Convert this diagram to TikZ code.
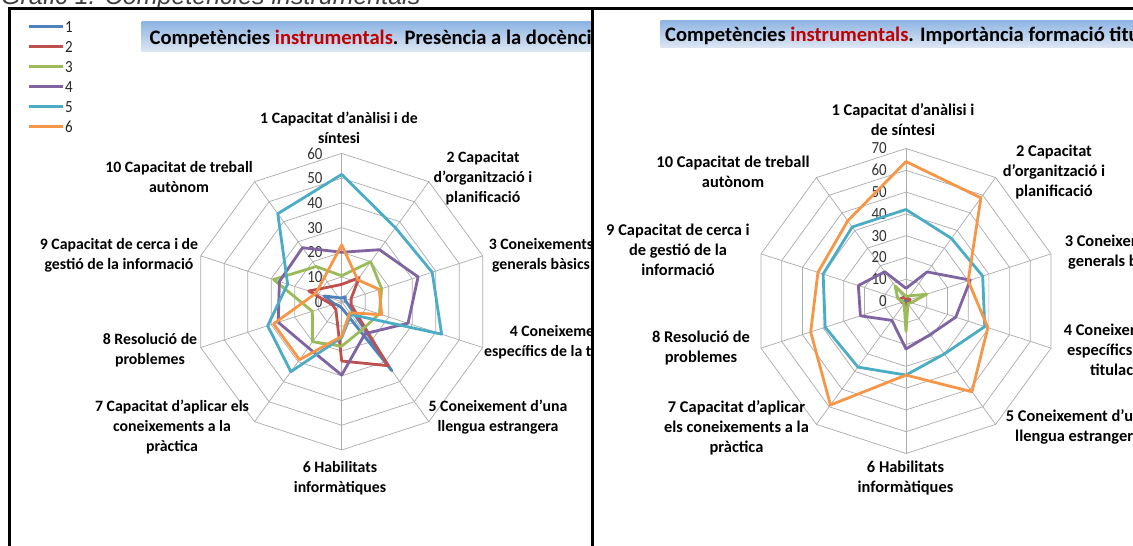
\documentclass[tikz,border=0pt]{standalone}
\usepackage{fontspec}
\setmainfont{Liberation Sans}
\newfontfamily\carl{Carlito}
\newfontfamily\carln[FakeStretch=0.88]{Carlito}
\definecolor{serA}{HTML}{4F81BD}
\definecolor{serB}{HTML}{C0504D}
\definecolor{serC}{HTML}{9BBB59}
\definecolor{serD}{HTML}{8064A2}
\definecolor{serE}{HTML}{4BACC6}
\definecolor{serF}{HTML}{F79646}
\definecolor{tred}{HTML}{C00000}
\definecolor{tbtop}{RGB}{141,180,226}
\definecolor{tbbot}{RGB}{222,231,243}
\newcommand\rline[4]{\draw[ser,#1] (90:#3*#2) \foreach \v [count=\k from 2] in {#4} { -- ({90-36*(\k-1)}:\v*#2) } -- cycle;}
\newcommand\rgrid[3]{%
  \foreach \r in {1,...,#2} {\draw[grid] (90:\r*10*#1) \foreach \k in {1,...,9} { -- ({90-36*\k}:\r*10*#1) } -- cycle;}
  \foreach \k in {0,...,9} {\draw[grid] (0,0) -- ({90-36*\k}:#2*10*#1);}
  \foreach \r in {0,...,#2} {\pgfmathtruncatemacro\lv{\r*10}\node[vlab] (#3\r) at (-19,\r*10*#1) {\lv};}
}
\begin{document}
\begin{tikzpicture}[x=1pt,y=-1pt,
  grid/.style={draw=black!33,line width=0.7pt},
  ser/.style={line width=2.8pt,line join=round},
  vlab/.style={anchor=east,inner sep=0,font=\carln\fontsize{17}{18}\selectfont,text=black!80},
  lab/.style={align=center,inner sep=0,font=\carl\bfseries\fontsize{15.8}{20}\selectfont},
  labr/.style={align=center,inner sep=0,font=\carl\bfseries\fontsize{16.4}{20}\selectfont},
  leglab/.style={anchor=west,inner sep=0,font=\carln\fontsize{17}{18}\selectfont,text=black!85},
  ttl/.style={anchor=base west,inner sep=0,font=\carl\bfseries\fontsize{20.6}{22}\selectfont},
  frame/.style={line width=2.6pt,draw=black}]
\useasboundingbox (0,0) rectangle (1133,546);
\fill[white] (0,0) rectangle (1133,546);
% caption (cut at the top)
\begin{scope}
\clip (0,0) rectangle (1133,8);
\node[anchor=base west,inner sep=0,font=\itshape\fontsize{25}{30}\selectfont,text=black!75] (cap) at (1,5) {Gràfic 1. Competències instrumentals};
\end{scope}
% ---------------- left panel ----------------
\begin{scope}
\clip (9,0) rectangle (591.5,546);
\shade[top color=tbtop,bottom color=tbbot] (141.6,21.7) rectangle (592,51.7);
\node[ttl] (tl) at (149.5,44) {Competències \textcolor{tred}{instrumentals}. Presència a la docència};
\begin{scope}[shift={(341.7,301.7)},x=1pt,y=1pt]
\rgrid{2.4717}{6}{lv}
\rline{serA}{2.4717}{1.5}{2.5,1.5,2.5,34.5,2.5,2,3,7.5,2}
\rline{serB}{2.4717}{7}{12,4,4,32,24,4,4,14,7.5}
\rline{serC}{2.4717}{10.5}{20,17,16,14,18,20,12.5,29,17.6}
\rline{serD}{2.4717}{20}{26,32.5,28.2,16,29.7,23,27,26.5,27}
\rline{serE}{2.4717}{51.5}{37,38.5,42.5,6.4,14.5,35,31.5,23,44}
\rline{serF}{2.4717}{23}{11,16,17,5.5,14,29,29,11,12}
\end{scope}
\node[lab] (l1) at (339,127.8) {1 Capacitat d’anàlisi i de\\síntesi};
\node[lab] (l2) at (483,178) {2 Capacitat\\d’organització i\\planificació};
\node[lab] (l3) at (541,255) {3 Coneixements\\generals bàsics};
\node[lab] (l4) at (562,342) {4 Coneixements\\específics de la titulació};
\node[lab] (l5) at (498,417) {5 Coneixement d’una\\llengua estrangera};
\node[lab] (l6) at (340,478) {6 Habilitats\\informàtiques};
\node[lab] (l7) at (172,426.5) {7 Capacitat d’aplicar els\\coneixements a la\\pràctica};
\node[lab] (l8) at (150,350) {8 Resolució de\\problemes};
\node[lab] (l9) at (119,255) {9 Capacitat de cerca i de\\gestió de la informació};
\node[lab] (l10) at (179,177) {10 Capacitat de treball\\autònom};
\end{scope}
% legend
\foreach \c/\n [count=\i from 0] in {serA/1,serB/2,serC/3,serD/4,serE/5,serF/6}{
  \draw[ser,\c] (28.7,26.7+20*\i) -- (63,26.7+20*\i);
  \node[leglab] (lg\n) at (65,26.7+20*\i) {\n};
}
% ---------------- right panel ----------------
\begin{scope}
\clip (593,0) rectangle (1133,546);
\shade[top color=tbtop,bottom color=tbbot] (660.5,20) rectangle (1133,47.7);
\node[ttl] (tr) at (665,41) {Competències \textcolor{tred}{instrumentals}. Importància formació titulació};
\begin{scope}[shift={(906,301)},x=1pt,y=1pt]
\rgrid{2.1786}{7}{rv}
\rline{serA}{2.1786}{0.6}{0.6,0.6,0.6,0.6,0.6,0.6,0.6,0.6,0.6}
\rline{serB}{2.1786}{1}{1.5,2,1.5,1,2,1.5,2,3,2}
\rline{serC}{2.1786}{2}{3,10,2.5,1.5,14,1.5,1.5,4,8.5}
\rline{serD}{2.1786}{5.8}{16.5,31,24,19,22,11,22,23,16.6}
\rline{serE}{2.1786}{42}{35.5,37,38,30,34,37.5,39,40,42}
\rline{serF}{2.1786}{64}{58.5,30,39.5,51.5,34,59,46,42.5,45.5}
\end{scope}
\node[labr] (r1) at (903,120) {1 Capacitat d’anàlisi i\\de síntesi};
\node[labr] (r2) at (1054,171.7) {2 Capacitat\\d’organització i\\planificació};
\node[labr] (r3) at (1119,251.7) {3 Coneixements\\generals bàsics};
\node[labr] (r4) at (1118,350) {4 Coneixements\\específics de la\\titulació};
\node[labr] (r5) at (1078,427) {5 Coneixement d’una\\llengua estrangera};
\node[labr] (r6) at (905.5,478) {6 Habilitats\\informàtiques};
\node[labr] (r7) at (736.5,427.7) {7 Capacitat d’aplicar\\els coneixements a la\\pràctica};
\node[labr] (r8) at (701,348) {8 Resolució de\\problemes};
\node[labr] (r9) at (678,250) {9 Capacitat de cerca i\\de gestió de la\\informació};
\node[labr] (r10) at (733,172) {10 Capacitat de treball\\autònom};
\end{scope}
% frames
\draw[frame] (9.2,546) -- (9.2,8.7) -- (1133,8.7);
\draw[frame] (592.5,8.7) -- (592.5,546);
\end{tikzpicture}
\end{document}
